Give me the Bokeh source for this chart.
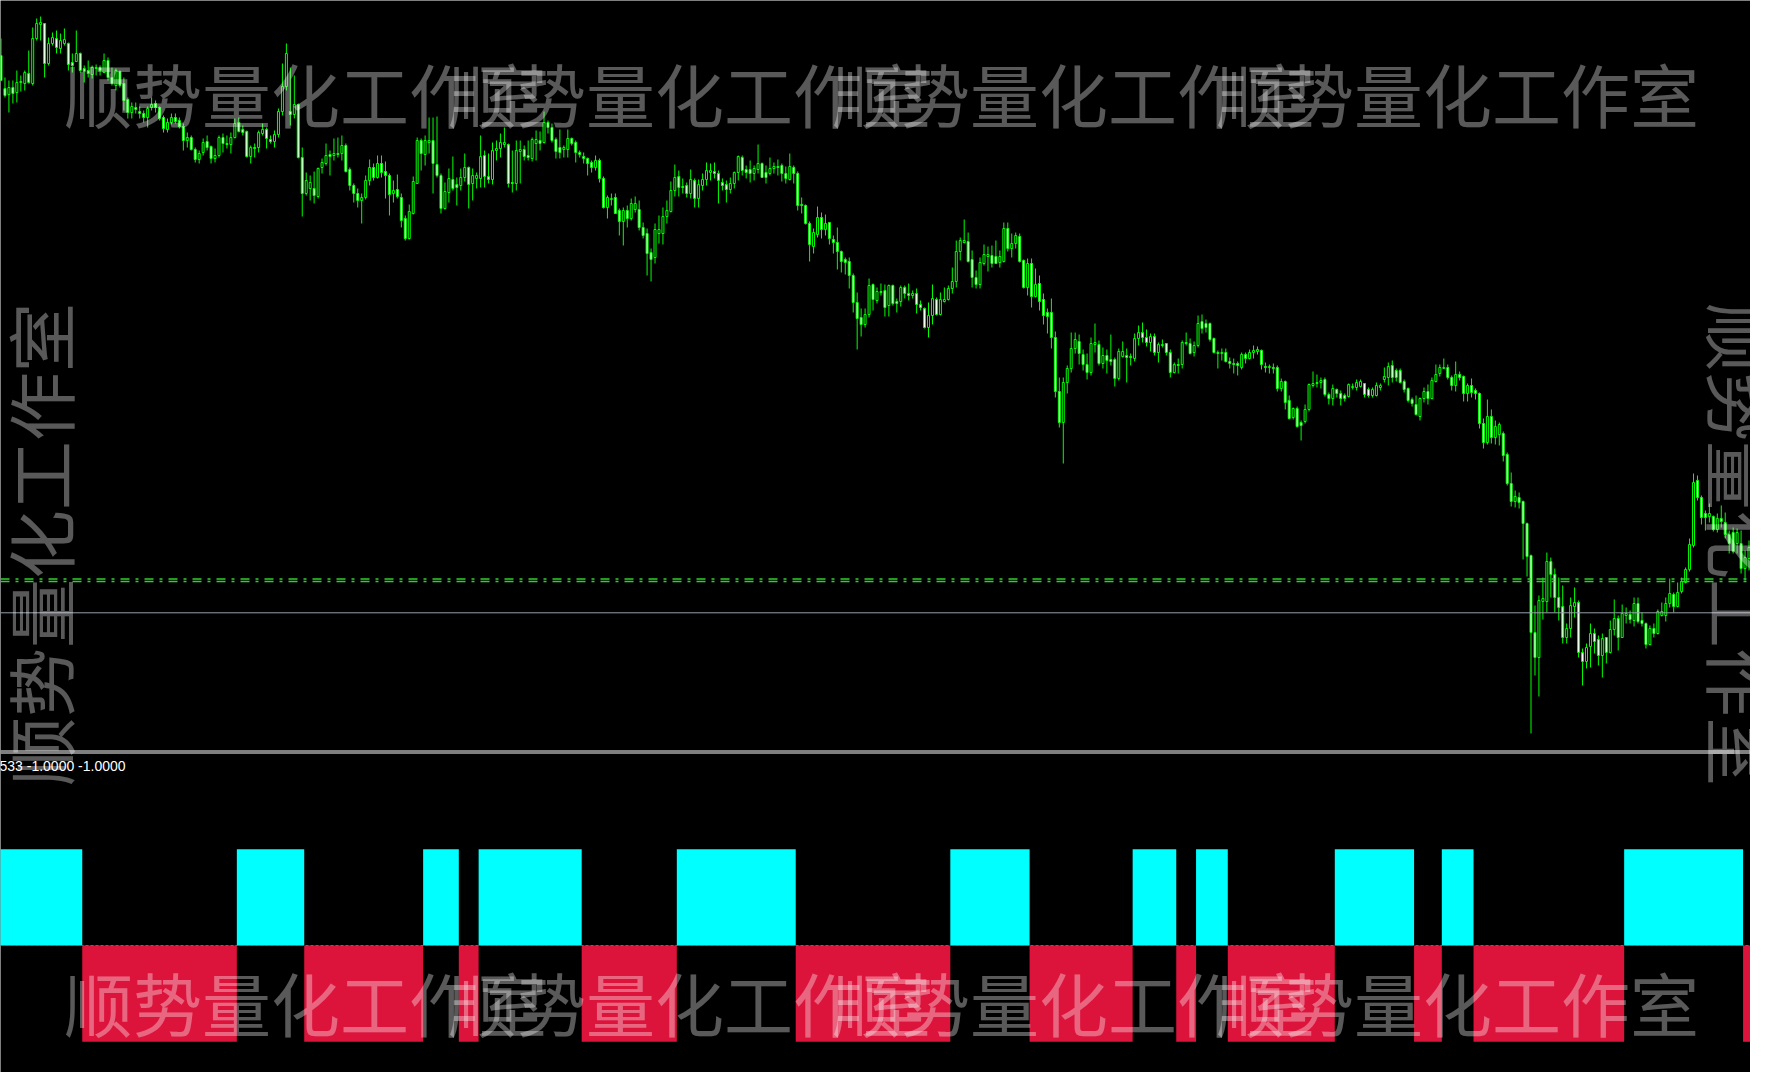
import math
from bokeh.plotting import figure
from bokeh.models import Range1d, Span, Label
from bokeh.embed import file_html
from bokeh.resources import INLINE

# ---------------- data (price in chart points) ----------------
open_ = [
    745, 712, 706, 713, 708, 718, 717, 727, 717, 762,
    776, 777, 737, 757, 762, 752, 757, 757, 738, 739,
    747, 732, 730, 726, 732, 733, 728, 740, 723, 715,
    729, 717, 701, 688, 693, 689, 687, 683, 693, 697,
    693, 683, 671, 678, 683, 680, 674, 660, 663, 651,
    641, 648, 659, 654, 642, 645, 663, 657, 656, 663,
    678, 671, 669, 644, 653, 653, 667, 671, 661, 659,
    666, 689, 714, 689, 686, 696, 643, 607, 612, 612,
    604, 633, 637, 646, 645, 647, 647, 655, 631, 615,
    607, 600, 603, 620, 633, 623, 637, 629, 625, 607,
    611, 603, 582, 562, 587, 617, 660, 646, 658, 660,
    636, 625, 592, 608, 621, 616, 615, 623, 633, 617,
    622, 622, 645, 624, 621, 650, 652, 656, 656, 618,
    617, 649, 651, 645, 642, 657, 660, 658, 678, 673,
    661, 653, 651, 651, 662, 658, 648, 644, 642, 638,
    633, 640, 622, 593, 601, 603, 590, 579, 590, 582,
    591, 591, 573, 567, 548, 543, 567, 567, 584, 589,
    610, 624, 614, 615, 607, 620, 602, 615, 621, 628,
    629, 627, 618, 616, 611, 617, 628, 643, 631, 631,
    627, 631, 637, 628, 627, 632, 634, 635, 627, 621,
    633, 627, 596, 595, 577, 554, 566, 583, 571, 578,
    561, 558, 549, 541, 539, 525, 498, 483, 476, 486,
    516, 500, 508, 510, 495, 515, 499, 499, 513, 507,
    505, 507, 496, 492, 473, 485, 501, 486, 499, 501,
    512, 519, 549, 558, 559, 541, 523, 516, 537, 544,
    545, 544, 538, 539, 572, 552, 557, 564, 540, 513,
    537, 504, 517, 501, 488, 488, 463, 409, 378, 418,
    432, 452, 459, 446, 436, 428, 456, 456, 437, 445,
    441, 441, 422, 444, 445, 444, 442, 462, 468, 463,
    458, 464, 448, 455, 457, 448, 428, 436, 436, 457,
    457, 448, 455, 479, 477, 477, 462, 448, 447, 448,
    439, 437, 437, 433, 446, 442, 448, 449, 450, 434,
    433, 433, 433, 412, 419, 400, 383, 392, 378, 379,
    391, 415, 417, 418, 421, 406, 402, 411, 407, 405,
    404, 413, 413, 414, 417, 411, 405, 405, 413, 421,
    423, 435, 430, 430, 419, 412, 401, 396, 384, 402,
    409, 402, 419, 427, 432, 433, 423, 415, 426, 424,
    407, 415, 410, 407, 377, 358, 384, 363, 366, 367,
    346, 317, 299, 303, 299, 277, 245, 168, 143, 199,
    199, 239, 226, 203, 194, 163, 172, 194, 198, 148,
    139, 154, 167, 161, 145, 163, 148, 171, 182, 163,
    185, 186, 180, 197, 180, 177, 156, 172, 167, 185,
    185, 197, 206, 194, 209, 218, 231, 255, 320, 303,
    287, 284, 284, 271, 282, 278, 266, 268, 257, 257,
    232, 242,
]

close = [
    720, 705, 713, 707, 718, 719, 728, 718, 762, 777,
    778, 737, 757, 763, 753, 760, 761, 736, 735, 747,
    730, 729, 727, 733, 733, 730, 740, 723, 717, 730,
    715, 700, 688, 694, 691, 687, 683, 692, 696, 693,
    682, 672, 678, 683, 679, 674, 660, 663, 651, 641,
    647, 658, 653, 642, 645, 663, 657, 656, 663, 677,
    669, 668, 644, 653, 652, 668, 671, 662, 659, 666,
    689, 714, 747, 686, 696, 643, 607, 620, 618, 605,
    632, 638, 645, 644, 647, 646, 655, 629, 615, 607,
    600, 603, 620, 633, 623, 637, 628, 625, 606, 610,
    604, 580, 562, 589, 619, 660, 647, 660, 660, 637,
    625, 592, 609, 622, 612, 613, 623, 633, 616, 625,
    625, 644, 624, 621, 650, 652, 658, 658, 617, 617,
    650, 651, 644, 643, 661, 661, 657, 678, 673, 660,
    649, 648, 653, 662, 657, 648, 646, 642, 637, 633,
    640, 622, 593, 603, 602, 587, 579, 590, 582, 597,
    597, 573, 565, 547, 541, 571, 571, 584, 590, 610,
    623, 613, 613, 607, 621, 602, 616, 621, 630, 630,
    627, 620, 615, 611, 617, 628, 644, 630, 628, 627,
    632, 637, 623, 623, 632, 634, 633, 627, 622, 634,
    627, 595, 595, 577, 556, 568, 583, 571, 577, 562,
    558, 549, 539, 538, 525, 498, 482, 476, 486, 515,
    501, 509, 509, 493, 515, 497, 497, 513, 507, 505,
    507, 496, 493, 473, 485, 502, 486, 501, 501, 512,
    519, 549, 560, 560, 539, 523, 516, 538, 546, 546,
    537, 537, 544, 572, 552, 557, 565, 539, 513, 537,
    504, 516, 499, 485, 484, 463, 409, 378, 418, 432,
    452, 461, 447, 436, 428, 457, 458, 437, 445, 440,
    439, 422, 449, 449, 443, 443, 462, 468, 463, 458,
    464, 448, 456, 456, 448, 428, 436, 435, 458, 458,
    447, 455, 477, 472, 473, 461, 448, 447, 448, 439,
    437, 436, 435, 446, 442, 448, 450, 451, 436, 433,
    434, 432, 412, 419, 398, 382, 392, 374, 375, 391,
    416, 417, 418, 420, 406, 402, 412, 407, 402, 402,
    416, 414, 418, 419, 406, 405, 411, 415, 415, 424,
    434, 423, 423, 418, 411, 400, 397, 386, 402, 409,
    402, 420, 426, 433, 433, 423, 415, 426, 423, 407,
    415, 408, 407, 377, 358, 384, 363, 374, 376, 345,
    317, 299, 304, 298, 277, 244, 168, 143, 200, 202,
    239, 226, 203, 193, 163, 172, 195, 198, 148, 139,
    153, 167, 159, 145, 162, 148, 171, 182, 163, 187,
    187, 181, 197, 179, 177, 156, 172, 167, 189, 189,
    197, 207, 194, 208, 219, 231, 256, 318, 303, 283,
    283, 287, 271, 282, 279, 266, 257, 249, 268, 232,
    243, 253,
]

high = [
    762, 723, 720, 720, 730, 725, 730, 750, 773, 782,
    784, 777, 763, 768, 770, 767, 772, 758, 747, 770,
    748, 735, 740, 735, 736, 735, 747, 743, 733, 732,
    730, 723, 703, 698, 698, 694, 690, 694, 703, 700,
    694, 685, 682, 687, 687, 683, 677, 668, 665, 653,
    650, 662, 665, 655, 652, 665, 667, 665, 668, 682,
    683, 675, 670, 655, 657, 670, 677, 673, 665, 670,
    692, 737, 757, 733, 725, 697, 653, 628, 625, 629,
    633, 642, 657, 650, 662, 663, 665, 657, 633, 617,
    612, 607, 625, 641, 637, 645, 645, 639, 627, 620,
    626, 607, 585, 596, 624, 663, 662, 665, 683, 683,
    684, 627, 618, 632, 644, 623, 632, 647, 634, 632,
    628, 665, 650, 647, 658, 660, 667, 673, 657, 650,
    660, 660, 655, 660, 663, 670, 669, 689, 680, 677,
    663, 671, 655, 671, 663, 660, 650, 648, 643, 640,
    645, 642, 624, 605, 607, 607, 592, 593, 595, 602,
    604, 600, 578, 572, 552, 577, 585, 593, 600, 619,
    636, 630, 622, 618, 631, 622, 621, 627, 638, 637,
    638, 630, 622, 620, 623, 629, 645, 645, 635, 640,
    635, 656, 638, 635, 643, 638, 641, 637, 634, 647,
    635, 629, 603, 596, 579, 572, 594, 588, 586, 578,
    565, 573, 550, 543, 543, 527, 508, 492, 492, 522,
    517, 513, 517, 516, 516, 516, 502, 515, 515, 517,
    510, 512, 500, 493, 498, 516, 503, 508, 513, 515,
    533, 560, 563, 581, 568, 550, 530, 543, 556, 554,
    555, 560, 550, 578, 578, 567, 568, 567, 541, 542,
    542, 532, 525, 507, 492, 502, 469, 423, 423, 435,
    468, 468, 466, 451, 447, 463, 477, 460, 453, 451,
    466, 443, 452, 459, 452, 447, 467, 475, 478, 471,
    467, 467, 458, 461, 457, 451, 438, 442, 460, 468,
    462, 459, 485, 486, 481, 478, 463, 450, 452, 452,
    443, 442, 439, 448, 448, 451, 455, 454, 451, 438,
    436, 437, 435, 422, 420, 405, 393, 394, 380, 396,
    417, 429, 426, 423, 423, 408, 416, 412, 410, 407,
    417, 417, 421, 421, 417, 413, 413, 418, 417, 433,
    438, 440, 432, 432, 421, 413, 403, 405, 403, 413,
    416, 423, 436, 436, 442, 436, 425, 439, 429, 425,
    417, 422, 412, 408, 382, 401, 391, 380, 378, 369,
    348, 328, 310, 308, 300, 278, 246, 195, 205, 223,
    248, 243, 232, 223, 215, 177, 203, 213, 200, 152,
    157, 177, 172, 165, 167, 163, 180, 201, 185, 196,
    193, 190, 203, 203, 188, 178, 175, 177, 191, 198,
    203, 222, 208, 218, 223, 233, 262, 327, 325, 305,
    290, 297, 285, 287, 295, 288, 270, 273, 272, 270,
    250, 260,
]

low = [
    720, 703, 688, 697, 698, 709, 710, 717, 715, 760,
    760, 723, 735, 755, 747, 747, 755, 730, 728, 739,
    728, 718, 723, 722, 725, 725, 728, 720, 715, 710,
    713, 690, 682, 682, 687, 682, 678, 673, 690, 688,
    680, 668, 668, 676, 677, 672, 650, 653, 650, 638,
    637, 645, 650, 637, 638, 643, 648, 652, 647, 662,
    668, 665, 643, 637, 643, 648, 665, 652, 657, 653,
    663, 685, 710, 675, 682, 642, 584, 605, 600, 597,
    602, 627, 635, 625, 640, 643, 640, 628, 610, 598,
    593, 577, 601, 615, 620, 622, 623, 602, 585, 598,
    602, 573, 560, 561, 586, 617, 630, 635, 647, 607,
    623, 587, 591, 598, 610, 595, 610, 619, 592, 600,
    612, 613, 613, 617, 616, 640, 643, 653, 613, 608,
    610, 617, 640, 640, 639, 640, 650, 657, 667, 658,
    642, 642, 643, 643, 655, 638, 643, 637, 625, 628,
    630, 618, 592, 582, 595, 587, 565, 555, 573, 580,
    588, 570, 562, 525, 519, 537, 557, 556, 577, 588,
    604, 604, 607, 603, 602, 593, 593, 610, 615, 620,
    622, 597, 610, 598, 607, 612, 620, 625, 622, 618,
    620, 627, 623, 617, 625, 627, 625, 619, 617, 620,
    617, 590, 587, 576, 539, 547, 563, 562, 565, 556,
    547, 531, 528, 526, 512, 488, 451, 464, 473, 483,
    490, 497, 505, 484, 484, 495, 488, 494, 502, 500,
    502, 487, 490, 472, 463, 476, 485, 485, 498, 500,
    507, 513, 540, 557, 538, 513, 512, 512, 535, 529,
    533, 537, 533, 538, 549, 543, 552, 538, 512, 505,
    493, 503, 490, 476, 467, 452, 403, 373, 337, 407,
    428, 447, 436, 430, 421, 425, 448, 435, 432, 427,
    435, 414, 420, 443, 418, 435, 439, 455, 458, 454,
    449, 445, 438, 453, 445, 423, 427, 427, 432, 455,
    446, 444, 453, 467, 468, 459, 447, 432, 440, 438,
    432, 427, 425, 431, 437, 441, 442, 446, 431, 428,
    427, 427, 409, 409, 391, 381, 381, 373, 360, 377,
    389, 413, 413, 412, 404, 396, 395, 403, 395, 399,
    403, 411, 410, 413, 403, 403, 403, 404, 410, 418,
    415, 418, 419, 417, 408, 398, 394, 385, 380, 398,
    396, 401, 418, 424, 432, 421, 410, 409, 420, 399,
    399, 403, 401, 372, 352, 356, 357, 356, 355, 339,
    315, 294, 293, 292, 241, 224, 67, 125, 104, 181,
    188, 203, 188, 180, 157, 157, 163, 183, 143, 115,
    132, 133, 147, 135, 123, 137, 147, 165, 150, 163,
    177, 177, 174, 177, 174, 152, 155, 163, 166, 184,
    179, 193, 188, 193, 207, 217, 229, 253, 300, 276,
    270, 278, 269, 268, 273, 262, 247, 247, 247, 227,
    220, 230,
]

# trend indicator: alternating runs (+1 first), lengths in bars
signal_runs = [21, 39, 17, 30, 9, 5, 26, 24, 30, 39, 20,
               26, 11, 5, 8, 27, 20, 7, 8, 38, 30, 2]
signal_first = 1

# horizontal levels (price)
green_levels = [221.5, 219.0]
grey_level = 187.7

watermark = "顺势量化工作室"
sub_label = "533 -1.0000 -1.0000"

# ---------------- layout constants ----------------
VIS_H = 1072          # reference rows shown (rows below are empty black)
W, H = 1750, 1072
n = len(close)

def sy(yr):
    return VIS_H - yr

# main price scale: 1 point per reference pixel, top = 800
PRICE_TOP = 800
price_range = Range1d(PRICE_TOP - VIS_H, PRICE_TOP)
# indicator scale: 0 at ref y 945, 1 unit = 96.3 ref px
IND_ZERO, IND_UNIT = 945, 96.3
ind_range = Range1d(-(VIS_H - IND_ZERO) / IND_UNIT, IND_ZERO / IND_UNIT)

p = figure(width=W, height=H, output_backend="svg", toolbar_location=None,
           x_range=Range1d(-0.125, n - 0.625), y_range=price_range,
           x_axis_location=None, y_axis_location=None, min_border=0,
           background_fill_color="black", border_fill_color="black",
           outline_line_color=None)
p.extra_y_ranges = {"ind": ind_range}
p.xgrid.visible = False
p.ygrid.visible = False
p.grid.grid_line_color = None

idx = list(range(n))
hi = [max(h, o, c) for h, o, c in zip(high, open_, close)]
lo = [min(l, o, c) for l, o, c in zip(low, open_, close)]
tops = [max(o, c) for o, c in zip(open_, close)]
bots = [min(o, c) for o, c in zip(open_, close)]
fills = ["white" if c < o else "black" for o, c in zip(open_, close)]

# indicator blocks
lefts, rights, vals, cols = [], [], [], []
pos = 0
sign = signal_first
for r in signal_runs:
    lefts.append(pos - 0.5)
    rights.append(pos + r - 0.5)
    vals.append(sign)
    cols.append("#00ffff" if sign > 0 else "#dc143c")
    pos += r
    sign = -sign
p.quad(left=lefts, right=rights, bottom=[0] * len(vals), top=vals,
       fill_color=cols, line_color=None, y_range_name="ind")
p.add_layout(Span(location=0, dimension="width", line_color="#ff00ff",
                  line_width=1.2, line_dash="3 2", y_range_name="ind"))

# levels
for lv in green_levels:
    p.add_layout(Span(location=lv, dimension="width", line_color="#32cd32",
                      line_width=1.4, line_dash="9 6 3 6"))
p.add_layout(Span(location=grey_level, dimension="width", line_color="#98a0aa",
                  line_width=1))

# candles
p.segment(x0=idx, y0=lo, x1=idx, y1=hi, line_color="#00ff00", line_width=1)
p.vbar(x=idx, width=0.5, top=tops, bottom=bots, fill_color=fills,
       line_color="#00ff00", line_width=1)

# separator between main window and sub window
for yr in (750.5, 752.5):
    p.add_layout(Span(location=PRICE_TOP - yr, dimension="width",
                      line_color="white", line_width=1))

# sub-window label
p.add_layout(Label(x=-1, y=sy(765), x_units="screen", y_units="screen",
                   text=sub_label, text_color="white", text_font="Liberation Sans",
                   text_font_size="14px", text_align="left", text_baseline="middle"))

# watermarks (fixed screen positions, as in the terminal)
wm = dict(x_units="screen", y_units="screen", text=watermark, text_color="white",
          text_alpha=0.35, text_font="Noto Sans CJK SC", text_font_size="69px",
          text_align="center", text_baseline="middle")
for cx in (305, 689, 1073, 1457):
    p.add_layout(Label(x=cx, y=sy(92), **wm))
    p.add_layout(Label(x=cx, y=sy(1001), **wm))
p.add_layout(Label(x=38, y=sy(544), angle=math.pi / 2, **wm))
p.add_layout(Label(x=1741, y=sy(544), angle=-math.pi / 2, **wm))

open("out.html", "w").write(file_html(p, INLINE))
